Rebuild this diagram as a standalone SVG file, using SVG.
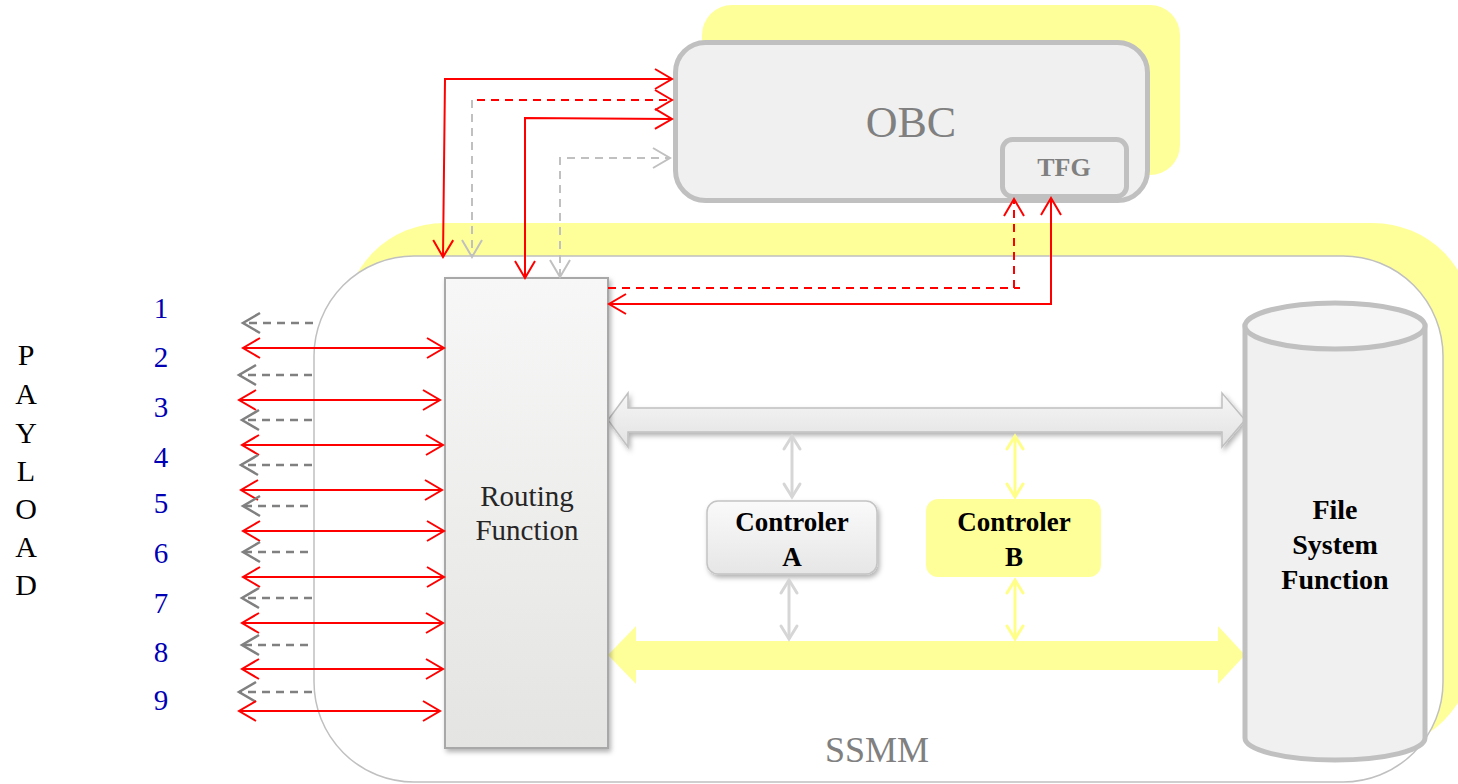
<svg xmlns="http://www.w3.org/2000/svg" width="1458" height="784" viewBox="0 0 1458 784">
  <style>
    .num { font-family: "Liberation Serif", serif; font-size: 29px; fill: #0000b4; text-anchor: middle; }
    .pay { font-family: "Liberation Serif", serif; font-size: 30px; fill: #000; text-anchor: middle; }
    .red { fill: none; stroke: #ff0000; stroke-width: 2; }
    .redd { fill: none; stroke: #ff0000; stroke-width: 2; stroke-dasharray: 8 6; }
    .grayd { fill: none; stroke: #808080; stroke-width: 2.5; stroke-dasharray: 8 6; }
    .lgrayd { fill: none; stroke: #c0c0c0; stroke-width: 2; stroke-dasharray: 8 6; }
    .lbl { font-family: "Liberation Serif", serif; text-anchor: middle; }
  </style>
  <defs>
    <marker id="mRed" markerUnits="userSpaceOnUse" markerWidth="24" markerHeight="24" refX="18" refY="11" orient="auto-start-reverse" overflow="visible">
      <path d="M1,1 L18,11 L1,21" fill="none" stroke="#ff0000" stroke-width="2"/>
    </marker>
    <marker id="mGray" markerUnits="userSpaceOnUse" markerWidth="24" markerHeight="24" refX="18" refY="11" orient="auto-start-reverse" overflow="visible">
      <path d="M1,1 L18,11 L1,21" fill="none" stroke="#808080" stroke-width="2.5"/>
    </marker>
    <marker id="mLGray" markerUnits="userSpaceOnUse" markerWidth="24" markerHeight="24" refX="18" refY="11" orient="auto-start-reverse" overflow="visible">
      <path d="M1,1 L18,11 L1,21" fill="none" stroke="#c0c0c0" stroke-width="2"/>
    </marker>
    <marker id="mBusGray" markerUnits="userSpaceOnUse" markerWidth="20" markerHeight="20" refX="14" refY="9" orient="auto-start-reverse" overflow="visible">
      <path d="M1,1 L14,9 L1,17" fill="none" stroke="#d6d6d6" stroke-width="3" stroke-linecap="round"/>
    </marker>
    <marker id="mBusYel" markerUnits="userSpaceOnUse" markerWidth="20" markerHeight="20" refX="14" refY="9" orient="auto-start-reverse" overflow="visible">
      <path d="M1,1 L14,9 L1,17" fill="none" stroke="#ffff88" stroke-width="3" stroke-linecap="round"/>
    </marker>
    <linearGradient id="gBox" x1="0" y1="0" x2="0" y2="1">
      <stop offset="0" stop-color="#f7f7f7"/>
      <stop offset="1" stop-color="#e4e4e2"/>
    </linearGradient>
    <linearGradient id="gCtl" x1="0" y1="0" x2="0" y2="1">
      <stop offset="0" stop-color="#fafafa"/>
      <stop offset="1" stop-color="#e6e6e6"/>
    </linearGradient>
    <linearGradient id="gBus" x1="0" y1="0" x2="0" y2="1">
      <stop offset="0" stop-color="#f6f6f6"/>
      <stop offset="1" stop-color="#e2e2e2"/>
    </linearGradient>
    <filter id="shadow" x="-10%" y="-10%" width="130%" height="140%">
      <feDropShadow dx="2" dy="3" stdDeviation="2.5" flood-color="#000" flood-opacity="0.3"/>
    </filter>
  </defs>

  <rect width="1458" height="784" fill="#ffffff"/>

  <!-- yellow backing panels -->
  <rect x="344" y="223" width="1129" height="527" rx="100" fill="#ffff9a"/>
  <rect x="702" y="5" width="478" height="170" rx="30" fill="#ffff9a"/>

  <!-- SSMM enclosure -->
  <g id="ssmm">
    <rect x="314" y="256" width="1129" height="526" rx="100" fill="#ffffff" stroke="#c0c0c0" stroke-width="1.5"/>
    <text class="lbl" x="877" y="762" font-size="36" fill="#808080">SSMM</text>
  </g>

  <!-- OBC with TFG -->
  <g id="obc">
    <rect x="675.5" y="42.5" width="472" height="158" rx="30" fill="#f0f0f0" stroke="#c0c0c0" stroke-width="5"/>
    <text class="lbl" x="911" y="137" font-size="44" fill="#808080">OBC</text>
  </g>
  <g id="tfg">
    <rect x="1002.5" y="139.5" width="124" height="57" rx="10" fill="#f0f0f0" stroke="#c0c0c0" stroke-width="5"/>
    <text class="lbl" x="1064" y="176" font-size="26" font-weight="bold" fill="#808080">TFG</text>
  </g>

  <!-- buses -->
  <g id="bus-gray">
    <polygon points="608,420 628,393 628,408 1222,408 1222,393 1245,420 1222,447 1222,432 628,432 628,447" fill="url(#gBus)" stroke="#c0c0c0" stroke-width="1.5" filter="url(#shadow)"/>
  </g>
  <g id="bus-yellow">
    <polygon points="608,655 636,626 636,641 1218,641 1218,626 1245,655 1218,684 1218,670 636,670 636,684" fill="#ffff9a"/>
  </g>

  <!-- Routing Function -->
  <g id="routing">
    <rect x="445" y="278" width="163" height="470" fill="url(#gBox)" stroke="#a8a8a8" stroke-width="2" filter="url(#shadow)"/>
    <text class="lbl" x="527" y="506" font-size="29" fill="#262626">Routing</text>
    <text class="lbl" x="527" y="540" font-size="29" fill="#262626">Function</text>
  </g>

  <!-- File System Function -->
  <g id="filesystem">
    <path d="M1245,326 L1245,738 A90,22 0 0 0 1425,738 L1425,326 Z" fill="#f0f0f0" stroke="#c0c0c0" stroke-width="5"/>
    <ellipse cx="1335" cy="326" rx="90" ry="23" fill="#f5f5f5" stroke="#c0c0c0" stroke-width="5"/>
    <text class="lbl" x="1335" y="519" font-size="28" font-weight="bold" fill="#000">File</text>
    <text class="lbl" x="1335" y="554" font-size="28" font-weight="bold" fill="#000">System</text>
    <text class="lbl" x="1335" y="589" font-size="28" font-weight="bold" fill="#000">Function</text>
  </g>

  <!-- Controllers -->
  <g id="ctlA">
    <rect x="707" y="501" width="170" height="73" rx="11" fill="url(#gCtl)" stroke="#c4c4c4" stroke-width="1.5" filter="url(#shadow)"/>
    <text class="lbl" x="792" y="531" font-size="27" font-weight="bold" fill="#000">Controler</text>
    <text class="lbl" x="792" y="566" font-size="27" font-weight="bold" fill="#000">A</text>
  </g>
  <g id="ctlB">
    <rect x="926" y="499" width="175" height="78" rx="12" fill="#ffff9a"/>
    <text class="lbl" x="1014" y="531" font-size="27" font-weight="bold" fill="#000">Controler</text>
    <text class="lbl" x="1014" y="566" font-size="27" font-weight="bold" fill="#000">B</text>
  </g>

  <!-- payload labels -->
  <g id="payload">
    <text class="pay" x="26" y="365">P</text>
    <text class="pay" x="26" y="404">A</text>
    <text class="pay" x="26" y="443">Y</text>
    <text class="pay" x="26" y="481">L</text>
    <text class="pay" x="26" y="519">O</text>
    <text class="pay" x="26" y="557">A</text>
    <text class="pay" x="26" y="595">D</text>
  </g>
  <g id="ports">
    <text class="num" x="161" y="318">1</text>
    <text class="num" x="161" y="367">2</text>
    <text class="num" x="161" y="417">3</text>
    <text class="num" x="161" y="467">4</text>
    <text class="num" x="161" y="513">5</text>
    <text class="num" x="161" y="563">6</text>
    <text class="num" x="161" y="613">7</text>
    <text class="num" x="161" y="662">8</text>
    <text class="num" x="161" y="710">9</text>
  </g>

  <!-- connectors -->
  <g id="connectors">
    <!-- OBC links -->
    <path class="red" d="M443,257 L445,79 L672,79" marker-start="url(#mRed)" marker-end="url(#mRed)"/>
    <path class="redd" d="M477,100 L672,100" marker-end="url(#mRed)"/>
    <path class="lgrayd" d="M472,100 L472,257" marker-end="url(#mLGray)"/>
    <path class="red" d="M525,278 L525,118 L672,119" marker-start="url(#mRed)" marker-end="url(#mRed)"/>
    <path class="lgrayd" d="M560,277 L560,158 L670,158" marker-start="url(#mLGray)" marker-end="url(#mLGray)"/>
    <!-- TFG links -->
    <path class="redd" d="M608,288 L1020,288 M1014,288 L1014,199" marker-end="url(#mRed)"/>
    <path class="red" d="M1051,198 L1051,304 L609,304" marker-start="url(#mRed)" marker-end="url(#mRed)"/>

    <!-- payload lines -->
    <path class="grayd" d="M313,323 L243,323" marker-end="url(#mGray)"/>
    <path class="red" d="M243,348 L444,348" marker-start="url(#mRed)" marker-end="url(#mRed)"/>
    <path class="grayd" d="M312,375 L239,375" marker-end="url(#mGray)"/>
    <path class="red" d="M239,400 L440,400" marker-start="url(#mRed)" marker-end="url(#mRed)"/>
    <path class="grayd" d="M312,420 L242,420" marker-end="url(#mGray)"/>
    <path class="red" d="M242,445 L443,445" marker-start="url(#mRed)" marker-end="url(#mRed)"/>
    <path class="grayd" d="M312,465 L241,465" marker-end="url(#mGray)"/>
    <path class="red" d="M241,490 L442,490" marker-start="url(#mRed)" marker-end="url(#mRed)"/>
    <path class="grayd" d="M308,506 L243,506" marker-end="url(#mGray)"/>
    <path class="red" d="M243,531 L444,531" marker-start="url(#mRed)" marker-end="url(#mRed)"/>
    <path class="grayd" d="M308,552 L243,552" marker-end="url(#mGray)"/>
    <path class="red" d="M243,577 L444,577" marker-start="url(#mRed)" marker-end="url(#mRed)"/>
    <path class="grayd" d="M312,598 L242,598" marker-end="url(#mGray)"/>
    <path class="red" d="M242,623 L443,623" marker-start="url(#mRed)" marker-end="url(#mRed)"/>
    <path class="grayd" d="M308,645 L242,645" marker-end="url(#mGray)"/>
    <path class="red" d="M242,669 L443,669" marker-start="url(#mRed)" marker-end="url(#mRed)"/>
    <path class="grayd" d="M312,692 L239,692" marker-end="url(#mGray)"/>
    <path class="red" d="M239,711 L440,711" marker-start="url(#mRed)" marker-end="url(#mRed)"/>

    <!-- controller bus links -->
    <path d="M792,436 L792,497" fill="none" stroke="#d6d6d6" stroke-width="3" marker-start="url(#mBusGray)" marker-end="url(#mBusGray)"/>
    <path d="M789,580 L789,639" fill="none" stroke="#d6d6d6" stroke-width="3" marker-start="url(#mBusGray)" marker-end="url(#mBusGray)"/>
    <path d="M1015,436 L1015,497" fill="none" stroke="#ffff88" stroke-width="3" marker-start="url(#mBusYel)" marker-end="url(#mBusYel)"/>
    <path d="M1015,580 L1015,639" fill="none" stroke="#ffff88" stroke-width="3" marker-start="url(#mBusYel)" marker-end="url(#mBusYel)"/>
  </g>
</svg>
